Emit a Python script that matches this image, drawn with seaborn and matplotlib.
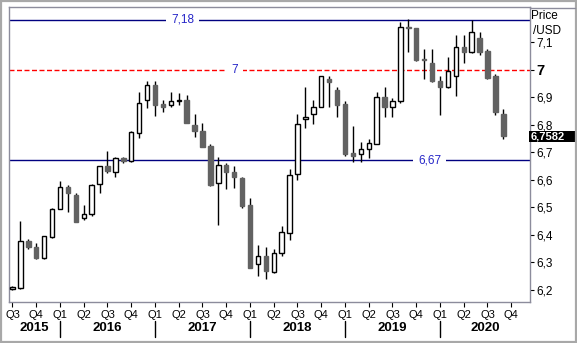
import matplotlib
matplotlib.use("Agg")
import matplotlib.pyplot as plt
import matplotlib.transforms as mtransforms
from matplotlib.patches import Rectangle
from matplotlib.lines import Line2D
import seaborn as sns

# Monthly USD/CNY candles, Jul 2015 - Sep 2020
opens = [6.202, 6.207, 6.378, 6.356, 6.316, 6.393, 6.495, 6.575, 6.545, 6.462, 6.476, 6.585,
         6.648, 6.629, 6.680, 6.669, 6.770, 6.890, 6.945, 6.876, 6.873, 6.884, 6.890, 6.800,
         6.778, 6.724, 6.589, 6.655, 6.629, 6.607, 6.509, 6.295, 6.324, 6.265, 6.335, 6.407,
         6.620, 6.822, 6.840, 6.865, 6.967, 6.924, 6.876, 6.698, 6.695, 6.713, 6.731, 6.900,
         6.865, 6.884, 7.156, 7.149, 7.040, 7.025, 6.960, 6.935, 6.975, 7.080, 7.062, 7.116,
         7.069, 6.978, 6.840]
highs = [6.213, 6.451, 6.385, 6.371, 6.396, 6.497, 6.596, 6.582, 6.553, 6.509, 6.584, 6.650,
         6.705, 6.682, 6.684, 6.777, 6.920, 6.960, 6.960, 6.890, 6.920, 6.913, 6.909, 6.840,
         6.807, 6.731, 6.684, 6.660, 6.651, 6.611, 6.535, 6.364, 6.356, 6.349, 6.433, 6.640,
         6.840, 6.935, 6.890, 6.978, 6.975, 6.935, 6.884, 6.796, 6.738, 6.749, 6.920, 6.935,
         6.895, 7.171, 7.185, 7.152, 7.073, 7.073, 6.978, 7.044, 7.124, 7.124, 7.178, 7.138,
         7.073, 6.985, 6.858]
lows = [6.198, 6.205, 6.349, 6.313, 6.313, 6.389, 6.493, 6.484, 6.447, 6.455, 6.469, 6.553,
        6.625, 6.611, 6.662, 6.666, 6.750, 6.860, 6.830, 6.845, 6.865, 6.870, 6.807, 6.756,
        6.718, 6.578, 6.436, 6.567, 6.571, 6.498, 6.280, 6.251, 6.240, 6.262, 6.324, 6.382,
        6.600, 6.789, 6.804, 6.865, 6.865, 6.829, 6.687, 6.665, 6.665, 6.680, 6.728, 6.829,
        6.829, 6.880, 7.062, 7.030, 6.964, 6.953, 6.836, 6.932, 6.905, 7.025, 7.060, 7.051,
        6.964, 6.836, 6.749]
closes = [6.211, 6.378, 6.356, 6.316, 6.396, 6.495, 6.575, 6.553, 6.447, 6.476, 6.582, 6.648,
          6.633, 6.680, 6.669, 6.775, 6.880, 6.945, 6.873, 6.865, 6.884, 6.890, 6.807, 6.778,
          6.720, 6.582, 6.655, 6.629, 6.611, 6.505, 6.280, 6.324, 6.269, 6.335, 6.411, 6.616,
          6.804, 6.829, 6.865, 6.975, 6.953, 6.873, 6.695, 6.687, 6.713, 6.735, 6.900, 6.865,
          6.884, 7.156, 7.149, 7.036, 7.033, 6.960, 6.935, 6.993, 7.080, 7.062, 7.135, 7.065,
          6.971, 6.844, 6.7582]

quarter_labels = ["Q3", "Q4"] + ["Q1", "Q2", "Q3", "Q4"] * 5
years = ["2015", "2016", "2017", "2018", "2019", "2020"]
ref_levels = [7.18, 7.00, 6.67]
ref_texts = ["7,18", "7", "6,67"]
last_price = closes[-1]
y_ticks = [6.2, 6.3, 6.4, 6.5, 6.6, 6.7, 6.8, 6.9, 7.0, 7.1]

sns.set_theme(style="white")
plt.rcParams["font.family"] = ["Liberation Sans", "DejaVu Sans"]
plt.rcParams["lines.scale_dashes"] = False

W, H = 577, 343
fig = plt.figure(figsize=(W / 100, H / 100), dpi=100)
fig.patch.set_facecolor("white")
ax = fig.add_axes([9 / W, (H - 302) / H, (530 - 9) / W, (302 - 7) / H])
ax.set_facecolor("white")

n = len(closes)
x = list(range(n))
ax.set_xlim(-0.44, 65.37)
ax.set_ylim(6.156, 7.227)

# reference levels with their captions sitting in a gap of the line
line_styles = [dict(color="#000080", lw=1.0, ls="-"),
               dict(color="#ff0000", lw=1.0, ls=(0, (3.6, 1.8))),
               dict(color="#000080", lw=1.0, ls="-")]
label_x = [21.5, 28.1, 52.7]
for lvl, txt, st, lx in zip(ref_levels, ref_texts, line_styles, label_x):
    ax.axhline(lvl, zorder=1, **st)
    ax.text(lx, lvl, txt, ha="center", va="center", fontsize=8.5, color="#2626c8",
            zorder=2, bbox=dict(facecolor="white", edgecolor="none", pad=3.6))

# candles
body_w = 0.56
dark = "#626262"
for i in x:
    o, h, l, c = opens[i], highs[i], lows[i], closes[i]
    ax.vlines(i, l, h, color="black", lw=1.0, zorder=3)
    up = c >= o
    ax.bar(i, abs(c - o), bottom=min(o, c), width=body_w,
           facecolor="white" if up else dark,
           edgecolor="black" if up else dark, linewidth=1.0, zorder=4)

# frame
frame_col = "#8c8c9c"
for s in ["left", "right", "top", "bottom"]:
    ax.spines[s].set_visible(True)
    ax.spines[s].set_color(frame_col)
    ax.spines[s].set_linewidth(1.0)

# y axis on the right
ax.yaxis.tick_right()
ax.set_yticks(y_ticks)
ax.set_yticklabels([("%g" % v).replace(".", ",") for v in y_ticks])
ax.tick_params(axis="y", which="major", direction="out", length=3, width=0.8,
               color="black", pad=1.5, labelsize=8.5, labelcolor="black", right=True, left=False)
for t, v in zip(ax.get_yticklabels(), y_ticks):
    if abs(v - 7.0) < 1e-9:
        t.set_fontweight("bold")
        t.set_fontsize(10.5)

# quarter ticks
q_pos = list(range(0, 3 * len(quarter_labels), 3))
ax.set_xticks(q_pos)
ax.set_xticklabels(quarter_labels)
ax.tick_params(axis="x", which="major", direction="out", length=3.5, width=0.8,
               color="black", pad=2.5, labelsize=8, labelcolor="black", bottom=True)

# year labels and separators
year_starts = [6, 18, 30, 42, 54]
bounds = [-0.44] + year_starts + [65.37]
trans = mtransforms.blended_transform_factory(ax.transData, ax.transAxes)
for k, yr in enumerate(years):
    ax.text((bounds[k] + bounds[k + 1]) / 2, -0.088, yr, transform=trans,
            ha="center", va="center", fontsize=9.5, fontweight="bold", color="black")
for xs in year_starts:
    ax.add_line(Line2D([xs, xs], [-0.066, -0.12], transform=trans, color="black",
                       lw=1.0, clip_on=False))

# last price marker
tb = mtransforms.blended_transform_factory(fig.transFigure, ax.transData)
box_h = 11 / 275.6
ax.add_patch(Rectangle((529 / W, last_price - box_h / 2), 46 / W, box_h, transform=tb,
                       facecolor="black", edgecolor="none", clip_on=False, zorder=6))
ax.text(530.5 / W, last_price, ("%.4f" % last_price).replace(".", ","), transform=tb,
        ha="left", va="center", fontsize=8, fontweight="bold", color="white",
        zorder=7, clip_on=False)

# unit caption
fig.text(531 / W, 1 - 16 / H, "Price", ha="left", va="center", fontsize=8.5, color="black")
fig.text(533 / W, 1 - 31 / H, "/USD", ha="left", va="center", fontsize=8.5, color="black")

# top frame extension and outer border
fig.add_artist(Line2D([530 / W, 575 / W], [1 - 7.5 / H, 1 - 7.5 / H], transform=fig.transFigure,
                      color=frame_col, lw=1.0))
fig.add_artist(Rectangle((1 / W, 1 / H), (W - 2) / W, (H - 2) / H, transform=fig.transFigure,
                         facecolor="none", edgecolor="#a8a8a8", lw=1.6))

fig.savefig("out.png", dpi=100)
